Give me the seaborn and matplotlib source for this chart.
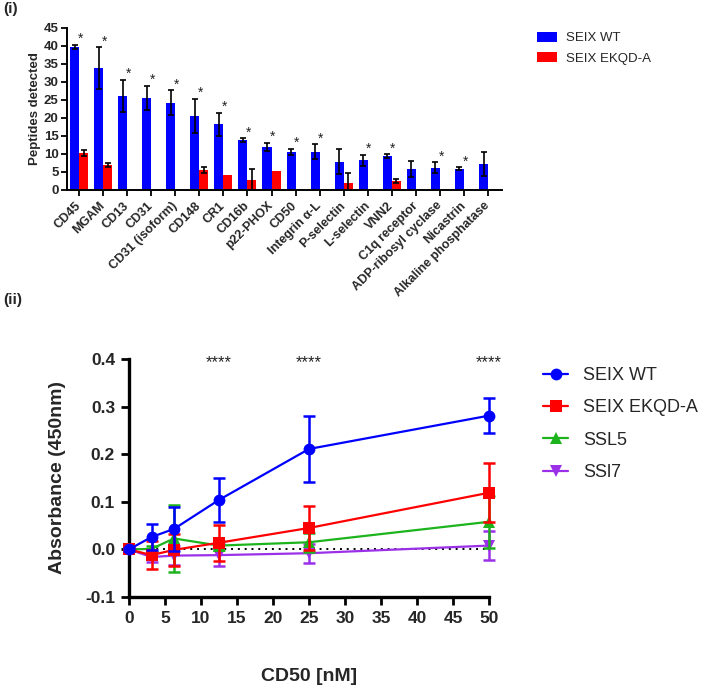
import numpy as np
import pandas as pd
import matplotlib
matplotlib.use("Agg")
import matplotlib.pyplot as plt
import seaborn as sns
from matplotlib.lines import Line2D
from matplotlib.patches import Patch

# ---------------- data: panel (i) ----------------
proteins = ["CD45", "MGAM", "CD13", "CD31", "CD31 (isoform)", "CD148", "CR1", "CD16b",
            "p22-PHOX", "CD50", "Integrin \u03b1-L", "P-selectin", "L-selectin", "VNN2",
            "C1q receptor", "ADP-ribosyl cyclase", "Nicastrin", "Alkaline phosphatase"]
wt_values = [39.8, 33.9, 26.2, 25.6, 24.2, 20.6, 18.3, 13.9, 11.9, 10.5, 10.6, 7.9, 8.2, 9.4,
             5.9, 6.2, 5.9, 7.2]
wt_errors = [0.5, 5.8, 4.4, 3.3, 3.5, 4.7, 3.2, 0.5, 1.2, 0.9, 2.1, 3.5, 1.6, 0.5,
             2.2, 1.5, 0.4, 3.4]
mut_values = [10.2, 6.9, 0, 0, 0, 5.6, 4.2, 2.9, 5.2, 0, 0, 2.0, 0, 2.5, 0, 0, 0, 0]
mut_errors = [0.8, 0.5, 0, 0, 0, 0.9, 0, 2.9, 0, 0, 0, 2.7, 0, 0.5, 0, 0, 0, 0]
significant = [1, 1, 1, 1, 1, 1, 1, 1, 1, 1, 1, 0, 1, 1, 0, 1, 1, 0]
bar_series = ["SEIX WT", "SEIX EKQD-A"]

# ---------------- data: panel (ii) ----------------
conc = [0, 3.125, 6.25, 12.5, 25, 50]
line_series = ["SEIX WT", "SEIX EKQD-A", "SSL5", "SSl7"]
abs_wt = [0.0, 0.026, 0.043, 0.104, 0.211, 0.281]
err_wt = [0.003, 0.027, 0.046, 0.047, 0.070, 0.037]
abs_mut = [0.0, -0.012, -0.001, 0.014, 0.045, 0.119]
err_mut = [0.003, 0.030, 0.034, 0.038, 0.046, 0.062]
abs_ssl5 = [0.0, 0.001, 0.023, 0.008, 0.015, 0.058]
err_ssl5 = [0.003, 0.006, 0.070, 0.010, 0.020, 0.055]
abs_ssl7 = [0.0, -0.016, -0.013, -0.012, -0.008, 0.008]
err_ssl7 = [0.003, 0.010, 0.020, 0.023, 0.020, 0.030]
star_conc = [12.5, 25, 50]

bar_colors = {"SEIX WT": "#0000FF", "SEIX EKQD-A": "#FF0000"}
line_colors = {"SEIX WT": "#0000FF", "SEIX EKQD-A": "#FF0000", "SSL5": "#1DB31D", "SSl7": "#9B30E8"}
line_markers = {"SEIX WT": "o", "SEIX EKQD-A": "s", "SSL5": "^", "SSl7": "v"}

sns.set_theme(style="white")
plt.rcParams["font.family"] = ["Liberation Sans", "DejaVu Sans"]

fig = plt.figure(figsize=(7.07, 6.89), dpi=100)
W, H = 707, 689

# ================= panel (i) =================
ax1 = fig.add_axes([67 / W, 1 - 190 / H, (502 - 67) / W, (190 - 28) / H])
df_bar = pd.DataFrame({
    "protein": proteins * 2,
    "construct": [bar_series[0]] * len(proteins) + [bar_series[1]] * len(proteins),
    "value": wt_values + mut_values,
})
sns.barplot(data=df_bar, x="protein", y="value", hue="construct", palette=bar_colors,
            errorbar=None, width=0.75, saturation=1, linewidth=0, legend=False, ax=ax1)

for cont, vals, errs in zip(ax1.containers, [wt_values, mut_values], [wt_errors, mut_errors]):
    xs, ys, es = [], [], []
    for bar, v, e in zip(cont, vals, errs):
        if e > 0:
            xs.append(bar.get_x() + bar.get_width() / 2)
            ys.append(v)
            es.append(e)
    ax1.errorbar(xs, ys, yerr=es, fmt="none", ecolor="black", elinewidth=1.2,
                 capsize=2.2, capthick=1.2, zorder=5)

for i, (v, e, s) in enumerate(zip(wt_values, wt_errors, significant)):
    if s:
        ax1.text(i + 0.05, v + e + 1.6, "*", ha="center", va="center", fontsize=10, color="#222222")

ax1.set_xlim(-0.5, 17.58)
ax1.set_ylim(0, 45)
ax1.set_yticks(np.arange(0, 46, 5))
ax1.set_xlabel("")
ax1.set_ylabel("Peptides detected", fontsize=9.5, fontweight="bold")
ax1.yaxis.set_label_coords(-0.06, 0.5)
for sp in ["top", "right"]:
    ax1.spines[sp].set_visible(False)
for sp in ["left", "bottom"]:
    ax1.spines[sp].set_color("black")
    ax1.spines[sp].set_linewidth(1.4)
ax1.tick_params(axis="both", direction="out", length=4, width=1.3, color="black",
                labelsize=9.5, pad=2, left=True, bottom=True)
for lab in ax1.get_yticklabels():
    lab.set_fontweight("bold")
ax1.set_xticks(range(len(proteins)))
ax1.set_xticklabels(proteins, rotation=45, ha="right", va="center", rotation_mode="anchor",
                    fontsize=9, fontweight="bold")
ax1.tick_params(axis="x", pad=6)

fig.legend(handles=[Patch(facecolor=bar_colors[s], edgecolor="none", label=s) for s in bar_series],
           loc="upper left", bbox_to_anchor=(537 / W, 1 - 32 / H), frameon=False,
           fontsize=9.5, handlelength=1.5, handleheight=0.75, handletextpad=0.7,
           labelspacing=0.6, borderpad=0, borderaxespad=0)

# ================= panel (ii) =================
ax2 = fig.add_axes([129 / W, 1 - 597 / H, (489 - 129) / W, (597 - 359) / H])
df_line = pd.DataFrame({
    "conc": conc * 4,
    "absorbance": abs_wt + abs_mut + abs_ssl5 + abs_ssl7,
    "construct": sum([[s] * len(conc) for s in line_series], []),
})
err_map = {"SEIX WT": err_wt, "SEIX EKQD-A": err_mut, "SSL5": err_ssl5, "SSl7": err_ssl7}

ax2.axhline(0, color="black", linestyle=(0, (1, 2.5)), linewidth=1.4, zorder=1)

for s in line_series[::-1]:
    sub = df_line[df_line["construct"] == s]
    sns.lineplot(data=sub, x="conc", y="absorbance", color=line_colors[s], marker=line_markers[s],
                 markersize=8.5, markeredgewidth=0, linewidth=1.6, errorbar=None, sort=False,
                 legend=False, ax=ax2, clip_on=False, zorder=3)
    ax2.errorbar(sub["conc"], sub["absorbance"], yerr=err_map[s], fmt="none",
                 ecolor=line_colors[s], elinewidth=1.8, capsize=4, capthick=1.8,
                 clip_on=False, zorder=3)

for c in star_conc:
    ax2.text(c, 0.392, "****", ha="center", va="center", fontsize=12, color="#222222")

ax2.set_xlim(0, 50)
ax2.set_ylim(-0.1, 0.4)
ax2.set_xticks(np.arange(0, 51, 5))
ax2.set_yticks(np.arange(-0.1, 0.41, 0.1))
ax2.set_yticklabels([f"{v:.1f}" for v in np.arange(-0.1, 0.41, 0.1)])
ax2.set_xlabel("CD50 [nM]", fontsize=14, fontweight="bold")
ax2.set_ylabel("Absorbance (450nm)", fontsize=14, fontweight="bold")
ax2.xaxis.set_label_coords(0.5, -0.30)
ax2.yaxis.set_label_coords(-0.175, 0.5)
for sp in ["top", "right"]:
    ax2.spines[sp].set_visible(False)
for sp in ["left", "bottom"]:
    ax2.spines[sp].set_color("black")
    ax2.spines[sp].set_linewidth(2.4)
ax2.tick_params(axis="both", direction="out", length=6, width=2, color="black",
                labelsize=12.5, left=True, bottom=True, pad=4)
for lab in ax2.get_xticklabels() + ax2.get_yticklabels():
    lab.set_fontweight("bold")

handles = [Line2D([0], [0], color=line_colors[s], marker=line_markers[s], markersize=8.5,
                  markeredgewidth=0, linewidth=1.6, label=s) for s in line_series]
fig.legend(handles=handles, loc="upper left", bbox_to_anchor=(543 / W, 1 - 367 / H),
           frameon=False, fontsize=13, handlelength=1.4, handletextpad=0.8,
           labelspacing=0.85, borderpad=0, borderaxespad=0)

fig.text(3 / W, 1 - 9 / H, "(i)", ha="left", va="center", fontsize=11, fontweight="bold")
fig.text(3 / W, 1 - 300 / H, "(ii)", ha="left", va="center", fontsize=11, fontweight="bold")

fig.savefig("out.png", dpi=100, facecolor="white")
